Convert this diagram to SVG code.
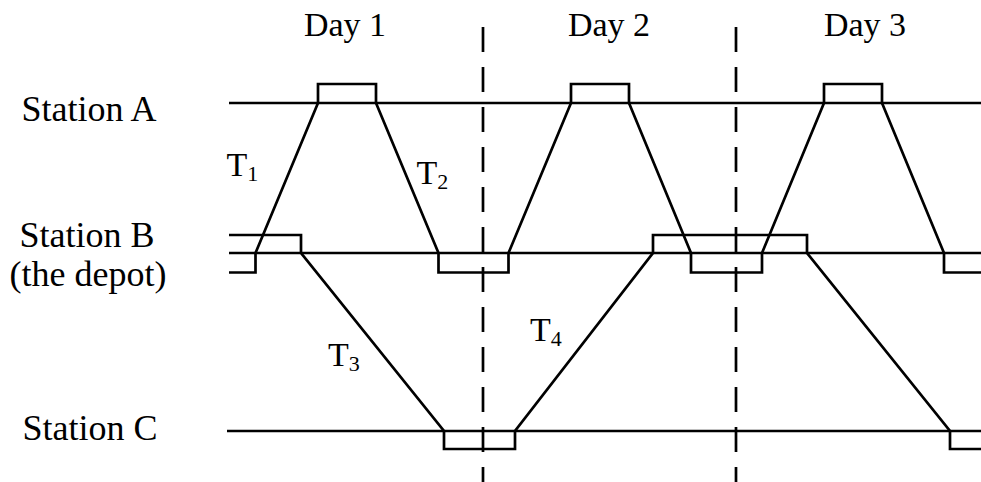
<svg xmlns="http://www.w3.org/2000/svg" width="981" height="482" viewBox="0 0 981 482">
<style>
text{font-family:"Liberation Serif","Times New Roman",serif;fill:#000}
.lbl{font-size:34px;text-anchor:middle}
.st{font-size:36px;text-anchor:middle}
.t{font-size:34px}
.sub{font-size:22px}
.ln{fill:none;stroke:#000;stroke-width:2.7;stroke-linejoin:miter}
.dash{fill:none;stroke:#000;stroke-width:2.7;stroke-dasharray:25 15}
</style>
<rect width="981" height="482" fill="#fff"/>
<g id="day-labels">
<text class="lbl" x="345" y="36">Day 1</text>
<text class="lbl" x="609" y="36">Day 2</text>
<text class="lbl" x="865" y="36">Day 3</text>
</g>
<g id="station-labels">
<text class="st" x="89" y="121">Station A</text>
<text class="st" x="87" y="246.5">Station B</text>
<text class="st" x="88" y="286">(the depot)</text>
<text class="st" x="90" y="440">Station C</text>
</g>
<g id="day-dividers">
<line class="dash" x1="483" y1="27" x2="483" y2="482"/>
<line class="dash" x1="736" y1="27" x2="736" y2="482"/>
</g>
<g id="station-lines">
<line class="ln" x1="229" y1="103" x2="981" y2="103"/>
<line class="ln" x1="229" y1="253" x2="981" y2="253"/>
<line class="ln" x1="227" y1="431" x2="981" y2="431"/>
</g>
<g id="connectors">
<path class="ln" d="M229,235 H301 V253"/>
<path class="ln" d="M229,272.5 H255.5 V253"/>
<path class="ln" d="M255.5,253 L318,103 V84 H376 V103 L438.5,253 V272.5 H508.5 V253 L571,103 V84 H629 V103 L691,253 V272.5 H762 V253 L824,103 V84 H882 V103 L944,253 V272.5 H981"/>
<path class="ln" d="M301,253 L444,431 V449 H515 V431 L653,253 V235 H807 V253 L950,431 V449 H981"/>
</g>
<g id="trip-labels">
<text class="t" x="226.5" y="176">T<tspan class="sub" dy="5">1</tspan></text>
<text class="t" x="416.5" y="184">T<tspan class="sub" dy="5">2</tspan></text>
<text class="t" x="328" y="366">T<tspan class="sub" dy="5">3</tspan></text>
<text class="t" x="530" y="341">T<tspan class="sub" dy="5">4</tspan></text>
</g>
</svg>
